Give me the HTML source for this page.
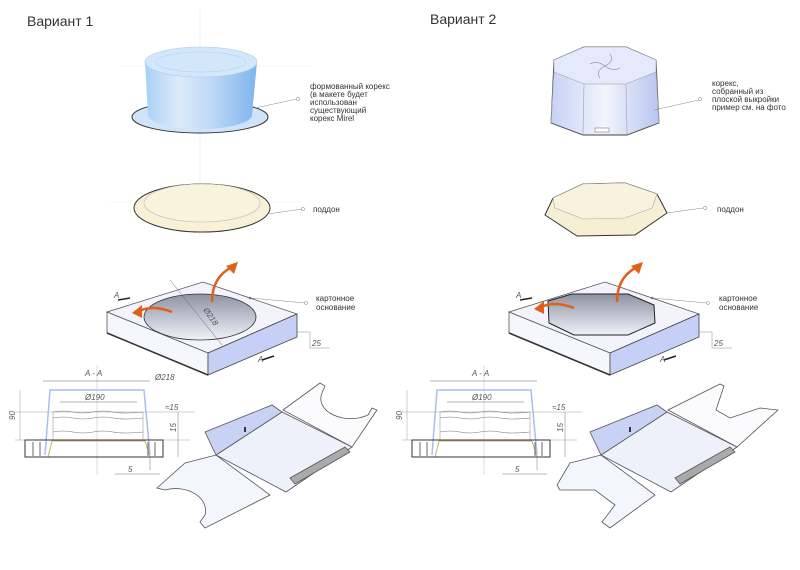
<!DOCTYPE html>
<html><head><meta charset="utf-8"><style>
html,body{margin:0;padding:0;background:#fff;}
svg{display:block;}
text{font-family:"Liberation Sans",sans-serif;fill:#333;}
.lb{font-size:8px;}
.dim{font-size:8px;font-style:italic;fill:#555;}
</style></head><body>
<svg width="800" height="570" viewBox="0 0 800 570" xmlns="http://www.w3.org/2000/svg">
<defs>
<linearGradient id="blue" x1="0" x2="1" y1="0" y2="0">
<stop offset="0" stop-color="#a9d0f5"/><stop offset="0.3" stop-color="#dcebfb"/><stop offset="0.6" stop-color="#bcd9f7"/><stop offset="1" stop-color="#7fb4ee"/></linearGradient>
<linearGradient id="oct" x1="0" x2="1" y1="0" y2="0">
<stop offset="0" stop-color="#c7d2f4"/><stop offset="0.5" stop-color="#f2f4fd"/><stop offset="1" stop-color="#b8c6f0"/></linearGradient>
<linearGradient id="hole" x1="0" x2="0" y1="0" y2="1">
<stop offset="0" stop-color="#8e92a2"/><stop offset="0.6" stop-color="#c9ccd8"/><stop offset="1" stop-color="#f0f1f6"/></linearGradient>
<g id="box">
<polygon points="107,312 203,282 297,314 208,353" fill="#f3f4fb" stroke="#555" stroke-width="0.8"/>
<polygon points="107,312 208,353 208,375 107,333" fill="#f6f7fc" stroke="#555" stroke-width="0.8"/>
<polygon points="208,353 297,314 297,337 208,375" fill="#c6cff5" stroke="#444" stroke-width="0.8"/>
<line x1="208" y1="375" x2="107" y2="333" stroke="#333" stroke-width="1.5"/>
<polyline points="297,332 310,332 310,348 330,348" fill="none" stroke="#888" stroke-width="0.5"/>
<text class="dim" x="312" y="346">25</text>
<path d="M250,298 L305,303" stroke="#888" stroke-width="0.5"/><circle cx="250" cy="298" r="1.3" fill="#777"/><circle cx="306" cy="303" r="1.5" fill="#fff" stroke="#777" stroke-width="0.5"/>
<path d="M118,300 l12,-2 M262,360 l12,-4" stroke="#222" stroke-width="1.5"/>
<text class="dim" x="114" y="298">A</text><text class="dim" x="258" y="362">A</text>
</g>
<g id="section">
<line x1="43" y1="381" x2="150" y2="381" stroke="#666" stroke-width="0.5"/>
<line x1="97" y1="365" x2="97" y2="475" stroke="#aaa" stroke-width="0.4"/>
<line x1="15" y1="412" x2="195" y2="412" stroke="#888" stroke-width="0.4"/>
<line x1="15" y1="440" x2="190" y2="440" stroke="#888" stroke-width="0.4"/>
<line x1="20" y1="390" x2="20" y2="440" stroke="#888" stroke-width="0.4"/>
<polyline points="45,455 50,390 144,390 150,455" fill="none" stroke="#a8bff0" stroke-width="1.5"/>
<line x1="60" y1="402" x2="137" y2="402" stroke="#666" stroke-width="0.5"/>
<path d="M53,412 q10,-2 20,0 t20,0 t20,0 t30,0 M53,418 q10,-2 20,0 t20,0 t20,0 t30,0 M53,432 q10,-2 20,0 t20,0 t20,0 t30,0" fill="none" stroke="#777" stroke-width="0.6"/>
<line x1="53" y1="412" x2="53" y2="440" stroke="#888" stroke-width="0.5"/><line x1="143" y1="412" x2="143" y2="440" stroke="#888" stroke-width="0.5"/>
<polyline points="48,457 52,441 145,441 150,457" fill="none" stroke="#c9b070" stroke-width="1"/>
<rect x="25" y="440" width="138" height="17" fill="none" stroke="#333" stroke-width="1"/>
<path d="M33,442 V456 M40,442 V456 M148,442 V456 M155,442 V456" fill="none" stroke="#444" stroke-width="0.8"/>
<line x1="178" y1="412" x2="178" y2="457" stroke="#777" stroke-width="0.5"/>
<line x1="150" y1="470" x2="150" y2="458" stroke="#777" stroke-width="0.5"/>
<line x1="115" y1="474" x2="160" y2="474" stroke="#777" stroke-width="0.5"/>
<text class="dim" x="85" y="376">A - A</text>
<text class="dim" x="85" y="400">Ø190</text>
<text class="dim" x="165" y="410" font-size="6">≈15</text>
<text class="dim" x="128" y="472">5</text>
<text class="dim" transform="translate(15,420) rotate(-90)">90</text>
<text class="dim" transform="translate(176,432) rotate(-90)">15</text>
</g>
<g id="traybase" stroke="#555" stroke-width="0.8">
<polygon points="216,455 282,412 352,447 286,492" fill="#eef0fa"/>
<polygon points="205,432 272,405 282,412 216,455" fill="#c8d2f4"/>
<polygon points="290,478 345,447 350,452 295,484" fill="#aaa"/>
</g>
</defs>

<text x="27" y="26" font-size="14">Вариант 1</text>
<text x="430" y="24" font-size="14">Вариант 2</text>

<line x1="200" y1="10" x2="200" y2="235" stroke="#e4e4e4" stroke-width="0.6"/>
<line x1="120" y1="66" x2="310" y2="66" stroke="#eee" stroke-width="0.6"/>
<line x1="110" y1="202" x2="300" y2="202" stroke="#eee" stroke-width="0.6"/>

<!-- Dome V1 -->
<ellipse cx="200" cy="117" rx="68" ry="16" fill="#cfe3fa" stroke="#333" stroke-width="1"/>
<path d="M145,62 L148,115 A52,14 0 0 0 252,115 L257,62 Z" fill="url(#blue)"/>
<ellipse cx="201" cy="62" rx="56" ry="15" fill="#d3e7fb" stroke="#aac8e8" stroke-width="0.6"/>
<ellipse cx="201" cy="62" rx="45" ry="10" fill="none" stroke="#b5d3f3" stroke-width="0.6"/>
<path d="M255,108 L297,99" stroke="#888" stroke-width="0.5"/><circle cx="298" cy="99" r="1.6" fill="#fff" stroke="#777" stroke-width="0.5"/>
<text class="lb" x="310" y="89">формованный корекс</text>
<text class="lb" x="310" y="97">(в макете будет</text>
<text class="lb" x="310" y="105">использован</text>
<text class="lb" x="310" y="113">существующий</text>
<text class="lb" x="310" y="121">корекс Mirel</text>

<!-- Tray V1 -->
<ellipse cx="202" cy="208" rx="68" ry="24" fill="#f9f1d7" stroke="#333" stroke-width="1"/>
<ellipse cx="202" cy="203" rx="58" ry="19" fill="#faf3dc" stroke="#bbb" stroke-width="0.6"/>
<path d="M268,214 L302,209" stroke="#888" stroke-width="0.5"/><circle cx="303" cy="209" r="1.6" fill="#fff" stroke="#777" stroke-width="0.5"/>
<text class="lb" x="313" y="212">поддон</text>

<!-- Box V1 -->
<use href="#box"/>
<ellipse cx="200" cy="317" rx="56" ry="23" fill="url(#hole)" stroke="#333" stroke-width="0.8"/>
<line x1="170" y1="280" x2="222" y2="345" stroke="#666" stroke-width="0.5"/>
<text class="dim" transform="translate(203,310) rotate(55)">Ø218</text>
<path d="M172,312 q-20,-8 -35,0" fill="none" stroke="#e0601a" stroke-width="2.5"/><polygon points="132,313 142,305 142,318" fill="#e0601a"/>
<path d="M212,302 q0,-25 20,-35" fill="none" stroke="#e0601a" stroke-width="2.5"/><polygon points="238,262 226,266 234,274" fill="#e0601a"/>
<text class="lb" x="316" y="301">картонное</text>
<text class="lb" x="316" y="310">основание</text>
<use href="#section"/>
<text class="dim" x="155" y="380">Ø218</text>

<!-- Unfold V1 -->
<path d="M283,410 L320,383 L325,386 L322,393 A30,20 0 0 0 368,415 L372,408 L377,410 L352,447 Z" fill="#fbfbfe" stroke="#555" stroke-width="0.8"/>
<path d="M185,463 L216,455 L270,495 L205,528 L200,522 L205,515 A30,22 0 0 0 165,490 L157,488 Z" fill="#f4f6fd" stroke="#555" stroke-width="0.8"/>
<use href="#traybase"/>
<line x1="245" y1="427" x2="245" y2="432" stroke="#333" stroke-width="2"/>

<!-- Dome V2 (octagon) -->
<polygon points="554,60 584,47 626,47 656,60 659,123 627,135 583,135 551,123" fill="url(#oct)" stroke="#444" stroke-width="0.9"/>
<polygon points="554,60 584,47 626,47 656,60 656,72 626,84 584,84 554,72" fill="#e4e9fb" stroke="#999" stroke-width="0.5"/>
<path d="M554,72 L551,123 M584,84 L583,135 M626,84 L627,135 M656,72 L659,123" stroke="#aab" stroke-width="0.7"/>
<path d="M605,66 q10,-5 5,-12 M605,66 q-10,5 -5,12 M605,66 q-8,-6 -15,-2 M605,66 q8,6 15,2" fill="none" stroke="#889" stroke-width="0.6"/>
<rect x="595" y="128" width="14" height="4" fill="#fff" stroke="#666" stroke-width="0.5"/>
<path d="M654,110 L699,100" stroke="#888" stroke-width="0.5"/><circle cx="700" cy="99" r="1.6" fill="#fff" stroke="#777" stroke-width="0.5"/>
<text class="lb" x="712" y="86">корекс,</text>
<text class="lb" x="712" y="94">собранный из</text>
<text class="lb" x="712" y="102">плоской выкройки</text>
<text class="lb" x="712" y="110">пример см. на фото</text>

<!-- Tray V2 -->
<polygon points="545,215 553,198 583,184 625,183 657,194 667,213 635,235 577,236" fill="#f7efd3" stroke="#333" stroke-width="1"/>
<polygon points="553,198 583,184 625,183 657,194 652,208 625,218 583,219 555,208" fill="#f9f3de" stroke="#aaa" stroke-width="0.6"/>
<path d="M667,213 L703,208" stroke="#888" stroke-width="0.5"/><circle cx="705" cy="208" r="1.6" fill="#fff" stroke="#777" stroke-width="0.5"/>
<text class="lb" x="717" y="212">поддон</text>

<!-- Box V2 -->
<use href="#box" transform="translate(402,0)"/>
<polygon points="548,301 572,294 628,294 654,305 655,323 628,335 574,335 549,323" fill="url(#hole)" stroke="#222" stroke-width="1"/>
<path d="M574,308 q-20,-8 -35,0" fill="none" stroke="#e0601a" stroke-width="2.5"/><polygon points="534,309 544,301 544,314" fill="#e0601a"/>
<path d="M617,302 q0,-25 20,-35" fill="none" stroke="#e0601a" stroke-width="2.5"/><polygon points="643,262 631,266 639,274" fill="#e0601a"/>
<text class="lb" x="719" y="301">картонное</text>
<text class="lb" x="719" y="310">основание</text>
<use href="#section" transform="translate(387,0)"/>

<!-- Unfold V2 -->
<path d="M668,410 L720,384 L724,386 L716,410 L730,418 L760,408 L778,410 L737,447 Z" fill="#fbfbfe" stroke="#555" stroke-width="0.8"/>
<path d="M570,463 L601,455 L655,495 L610,528 L602,522 L615,505 L595,490 L560,490 L557,485 Z" fill="#f4f6fd" stroke="#555" stroke-width="0.8"/>
<use href="#traybase" transform="translate(385,0)"/>
<line x1="630" y1="427" x2="630" y2="432" stroke="#333" stroke-width="2"/>
</svg>
</body></html>
